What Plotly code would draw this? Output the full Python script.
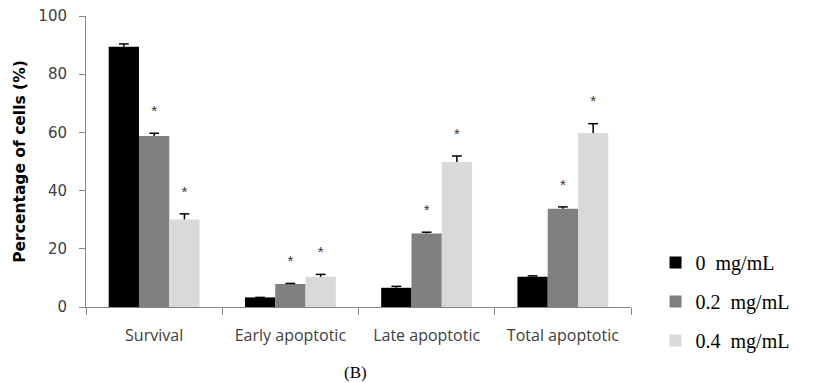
import plotly.graph_objects as go

categories = ["Survival", "Early apoptotic", "Late apoptotic", "Total apoptotic"]
series_names = ["0\u00a0 mg/mL", "0.2\u00a0 mg/mL", "0.4\u00a0 mg/mL"]
values_0 = [89.4, 3.3, 6.6, 10.4]
values_02 = [58.8, 7.9, 25.3, 33.8]
values_04 = [30.1, 10.4, 49.8, 59.8]
err_0 = [1.0, 0.0, 0.5, 0.3]
err_02 = [0.9, 0.2, 0.4, 0.6]
err_04 = [1.9, 0.8, 2.1, 3.2]
sig_02 = [True, True, True, True]
sig_04 = [True, True, True, True]
colors = ["#000000", "#808080", "#d9d9d9"]

series_values = [values_0, values_02, values_04]
series_errs = [err_0, err_02, err_04]
series_sig = [[False] * 4, sig_02, sig_04]

fig = go.Figure()
for i, (name, vals, col) in enumerate(zip(series_names, series_values, colors)):
    fig.add_trace(go.Bar(
        x=categories, y=vals, name=name, marker=dict(color=col, line=dict(width=0)),
        offsetgroup=str(i), legendgroup=f"g{i}",
    ))

# error bars (upper only, with cap)
for i, (vals, errs) in enumerate(zip(series_values, series_errs)):
    tops = [v + e for v, e in zip(vals, errs)]
    fig.add_trace(go.Scatter(
        x=categories, y=tops, mode="markers", showlegend=False, hoverinfo="skip",
        offsetgroup=str(i),
        marker=dict(symbol="line-ew", size=7, color="#000000",
                    line=dict(color="#000000", width=1.5)),
        error_y=dict(type="data", array=[0] * 4, arrayminus=errs, symmetric=False,
                     color="#000000", thickness=1.5, width=0),
    ))

# significance stars above error bars
for i, (vals, errs, sig) in enumerate(zip(series_values, series_errs, series_sig)):
    tops = [v + e for v, e in zip(vals, errs)]
    fig.add_trace(go.Scatter(
        x=categories, y=tops, mode="markers+text", showlegend=False, hoverinfo="skip",
        offsetgroup=str(i),
        marker=dict(size=20, color="rgba(0,0,0,0)"),
        text=["*" if s else "" for s in sig], textposition="top center",
        textfont=dict(family="Arial", size=15, color="#333344"),
    ))

fig.add_annotation(xref="paper", yref="paper", x=(355 - 86) / 545, y=-(372 - 307) / 291,
                   yanchor="middle", xanchor="center", text="(B)", showarrow=False,
                   font=dict(family="Liberation Serif", size=17, color="#000000"))

fig.update_layout(
    width=814, height=383,
    margin=dict(l=86, r=183, t=16, b=76, autoexpand=False),
    paper_bgcolor="white", plot_bgcolor="white",
    barmode="group", bargap=0.333, bargroupgap=0,
    scattermode="group", scattergap=0.333,
    showlegend=True,
    legend=dict(x=1.045, y=0.22, xanchor="left", yanchor="top",
                font=dict(family="Liberation Serif", size=20, color="#000000"),
                tracegroupgap=10, bgcolor="rgba(0,0,0,0)"),
    xaxis=dict(type="category", showline=True, linecolor="#868686", linewidth=1,
               ticks="outside", tickson="boundaries", ticklen=7, tickcolor="#868686",
               tickfont=dict(family="Open Sans", size=16, color="#404040"),
               ticklabelstandoff=14, showgrid=False, automargin=False),
    yaxis=dict(range=[0, 100], tickvals=[0, 20, 40, 60, 80, 100], showline=True,
               linecolor="#868686", linewidth=1, ticks="outside", ticklen=6, tickcolor="#868686",
               tickfont=dict(family="DejaVu Sans", size=15, color="#404040"),
               ticklabelstandoff=9, automargin=False,
               showgrid=False, zeroline=False,
               title=dict(text="<b>Percentage of cells (%)</b>",
                          font=dict(family="DejaVu Sans", size=15.5, color="#000000"), standoff=8)),
)

fig.write_html("out.html")
